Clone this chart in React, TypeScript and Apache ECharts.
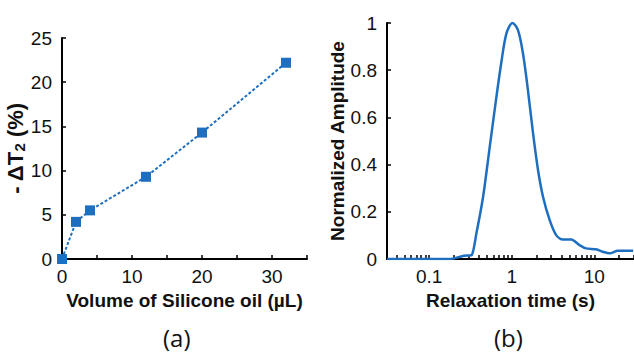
import React, { useEffect, useRef } from 'react';
import * as echarts from 'echarts';

// Panel (a)
const volumes = [0, 2, 4, 12, 20, 32];
const deltaT2 = [0, 4.2, 5.5, 9.3, 14.3, 22.2];

// Panel (b)
const relaxTimes = [0.031, 0.1, 0.18, 0.25, 0.3, 0.326, 0.374, 0.45, 0.542, 0.653, 0.75, 0.863, 1.02, 1.19, 1.37, 1.57, 1.81, 2.08, 2.39, 2.88, 3.47, 4.17, 5.25, 6.6, 7.9, 10.5, 12.6, 15.3, 19.3, 29.5];
const amplitudes = [0, 0, 0, 0.012, 0.015, 0.016, 0.11, 0.264, 0.476, 0.688, 0.836, 0.956, 1.0, 0.97, 0.87, 0.716, 0.533, 0.377, 0.264, 0.165, 0.1, 0.083, 0.083, 0.059, 0.045, 0.041, 0.031, 0.024, 0.035, 0.035];

const bMajorLabels = [0.1, 1, 10];
const bTickValues = [0.04, 0.05, 0.06, 0.07, 0.08, 0.09, 0.1, 0.2, 0.3, 0.4, 0.5, 0.6, 0.7, 0.8, 0.9, 1, 2, 3, 4, 5, 6, 7, 8, 9, 10, 20, 30];

const FONT = '"Liberation Sans Narrow", "Liberation Sans", Arial, sans-serif';
const BLUE = '#1f6fc0';

export default function App() {
  const ref = useRef<HTMLDivElement>(null);
  useEffect(() => {
    if (!ref.current) return;
    const chart = echarts.init(ref.current, null, { renderer: 'svg' });
    const axisLine = { onZero: false, lineStyle: { color: '#000', width: 2 } };
    const tick = { inside: true, length: 4, lineStyle: { color: '#000', width: 1.5 } };
    const labelStyle = { color: '#111', fontFamily: FONT, fontSize: 19 };
    const nameStyle = { color: '#111', fontFamily: FONT, fontSize: 19, fontWeight: 'bold' as const };
    chart.setOption({
      animation: false,
      grid: [
        { left: 62, top: 38, width: 245, height: 221 },
        { left: 387, top: 23, right: 0, height: 236 },
      ],
      xAxis: [
        {
          gridIndex: 0, type: 'value', min: 0, max: 35, interval: 5,
          axisLine, axisTick: tick, splitLine: { show: false },
          axisLabel: { ...labelStyle, margin: 8, formatter: (v: number) => (v % 10 === 0 ? String(v) : '') },
          name: 'Volume of Silicone oil (µL)', nameLocation: 'middle', nameGap: 32, nameTextStyle: nameStyle,
        },
        {
          gridIndex: 1, type: 'value', min: -1.51, max: 1.48,
          axisLine, splitLine: { show: false },
          axisTick: { ...tick, customValues: bTickValues.map((v) => Math.log10(v)) },
          axisLabel: {
            ...labelStyle, margin: 8,
            customValues: bMajorLabels.map((v) => Math.log10(v)),
            formatter: (v: number) => String(+Math.pow(10, v).toPrecision(3)),
          },
          name: 'Relaxation time (s)', nameLocation: 'middle', nameGap: 32, nameTextStyle: nameStyle,
        },
      ],
      yAxis: [
        {
          gridIndex: 0, type: 'value', min: 0, max: 25, interval: 5,
          axisLine: { show: true, ...axisLine }, axisTick: { show: true, ...tick }, splitLine: { show: false },
          axisLabel: { ...labelStyle, margin: 10 },
          name: '- ΔT{sub|2} (%)', nameLocation: 'middle', nameGap: 24,
          nameTextStyle: { ...nameStyle, fontSize: 22, rich: { sub: { ...nameStyle, fontSize: 15, verticalAlign: 'bottom', padding: [8, 0, 0, 0] } } },
        },
        {
          gridIndex: 1, type: 'value', min: 0, max: 1, interval: 0.2,
          axisLine: { show: true, ...axisLine }, axisTick: { show: true, ...tick }, splitLine: { show: false },
          axisLabel: { ...labelStyle, margin: 10 },
          name: 'Normalized Amplitude', nameLocation: 'middle', nameGap: 38, nameTextStyle: nameStyle,
        },
      ],
      series: [
        {
          type: 'line', xAxisIndex: 0, yAxisIndex: 0,
          data: volumes.map((v, i) => [v, deltaT2[i]]),
          symbol: 'rect', symbolSize: 10,
          itemStyle: { color: BLUE },
          lineStyle: { color: BLUE, width: 2, type: [3, 2] },
        },
        {
          type: 'line', xAxisIndex: 1, yAxisIndex: 1, smooth: 0.3,
          data: relaxTimes.map((t, i) => [Math.log10(t), amplitudes[i]]),
          showSymbol: false, symbol: 'none',
          lineStyle: { color: BLUE, width: 2.5 },
        },
      ],
      graphic: [
        { type: 'text', left: 163, top: 325, style: { text: '(a)', font: '24px "Open Sans", "Liberation Sans", sans-serif', fill: '#111' } },
        { type: 'text', left: 494, top: 325, style: { text: '(b)', font: '24px "Open Sans", "Liberation Sans", sans-serif', fill: '#111' } },
      ],
    });
    return () => chart.dispose();
  }, []);
  return <div ref={ref} style={{ position: 'fixed', left: 0, top: 0, width: 634, height: 360, background: '#fff' }} />;
}
